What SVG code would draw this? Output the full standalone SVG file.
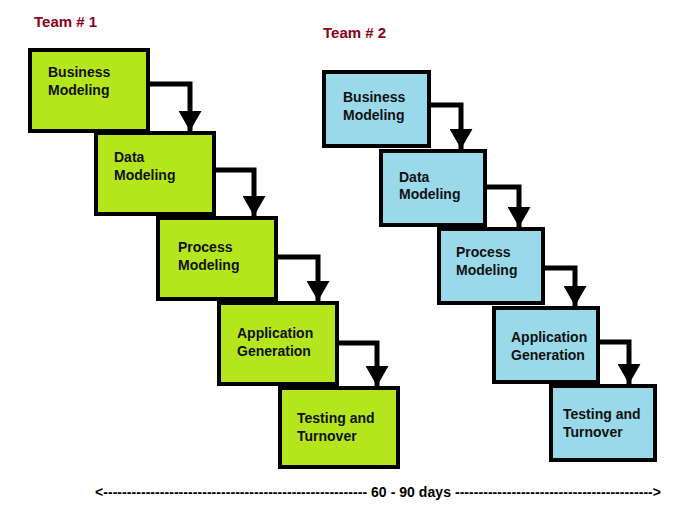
<svg xmlns="http://www.w3.org/2000/svg" width="679" height="512" viewBox="0 0 679 512">
<style>
.t1 { fill: #b5e61d; stroke: #000; stroke-width: 4; }
.t2 { fill: #99d9ea; stroke: #000; stroke-width: 4; }
.lbl { font-family: "Liberation Sans", Arial, sans-serif; font-weight: bold; font-size: 14px; fill: #111; }
.team { font-family: "Liberation Sans", Arial, sans-serif; font-weight: bold; font-size: 15px; fill: #8b0016; }
.conn { fill: none; stroke: #000; stroke-width: 5; stroke-linejoin: miter; }
.foot { font-family: "Liberation Sans", Arial, sans-serif; font-weight: bold; font-size: 14px; fill: #000; }
</style>
<defs>
<marker id="ah" viewBox="0 0 20 23" markerWidth="20" markerHeight="23" refX="20" refY="11.5" orient="auto" markerUnits="userSpaceOnUse">
<polygon points="0,0 20,11.5 0,23" fill="#000"/>
</marker>
</defs>
<text class="team" x="34" y="27">Team # 1</text>
<text class="team" x="323" y="38">Team # 2</text>
<g id="connectors">
<path class="conn" marker-end="url(#ah)" d="M149,84 H190 V131"/>
<path class="conn" marker-end="url(#ah)" d="M215,170 H254 V216"/>
<path class="conn" marker-end="url(#ah)" d="M278,257 H318 V301"/>
<path class="conn" marker-end="url(#ah)" d="M338,343 H377 V386"/>
<path class="conn" marker-end="url(#ah)" d="M431,105 H461 V149"/>
<path class="conn" marker-end="url(#ah)" d="M486,187 H519 V227"/>
<path class="conn" marker-end="url(#ah)" d="M544,268 H575 V306"/>
<path class="conn" marker-end="url(#ah)" d="M599,342 H629 V384"/>
</g>
<g id="t1-business">
<rect class="t1" x="30" y="50" width="118" height="81"/>
<text class="lbl" x="48" y="77">Business</text>
<text class="lbl" x="48" y="95">Modeling</text>
</g>
<g id="t1-data">
<rect class="t1" x="96" y="133" width="118" height="81"/>
<text class="lbl" x="114" y="162">Data</text>
<text class="lbl" x="114" y="180">Modeling</text>
</g>
<g id="t1-process">
<rect class="t1" x="158" y="218" width="118" height="81"/>
<text class="lbl" x="178" y="252">Process</text>
<text class="lbl" x="178" y="270">Modeling</text>
</g>
<g id="t1-application">
<rect class="t1" x="219" y="303" width="118" height="81"/>
<text class="lbl" x="237" y="338">Application</text>
<text class="lbl" x="237" y="356">Generation</text>
</g>
<g id="t1-testing">
<rect class="t1" x="280" y="388" width="118" height="79"/>
<text class="lbl" x="297" y="423">Testing and</text>
<text class="lbl" x="297" y="441">Turnover</text>
</g>
<g id="t2-business">
<rect class="t2" x="324" y="72" width="105" height="74"/>
<text class="lbl" x="343" y="102">Business</text>
<text class="lbl" x="343" y="120">Modeling</text>
</g>
<g id="t2-data">
<rect class="t2" x="381" y="151" width="104" height="74"/>
<text class="lbl" x="399" y="182">Data</text>
<text class="lbl" x="399" y="199">Modeling</text>
</g>
<g id="t2-process">
<rect class="t2" x="439" y="229" width="104" height="74"/>
<text class="lbl" x="456" y="257">Process</text>
<text class="lbl" x="456" y="275">Modeling</text>
</g>
<g id="t2-application">
<rect class="t2" x="494" y="308" width="104" height="74"/>
<text class="lbl" x="511" y="342">Application</text>
<text class="lbl" x="511" y="360">Generation</text>
</g>
<g id="t2-testing">
<rect class="t2" x="551" y="386" width="104" height="74"/>
<text class="lbl" x="563" y="419">Testing and</text>
<text class="lbl" x="563" y="437">Turnover</text>
</g>
<text class="foot" x="95" y="497" textLength="566" lengthAdjust="spacing">&lt;-------------------------------------------------------- 60 - 90 days ------------------------------------------&gt;</text>
</svg>
